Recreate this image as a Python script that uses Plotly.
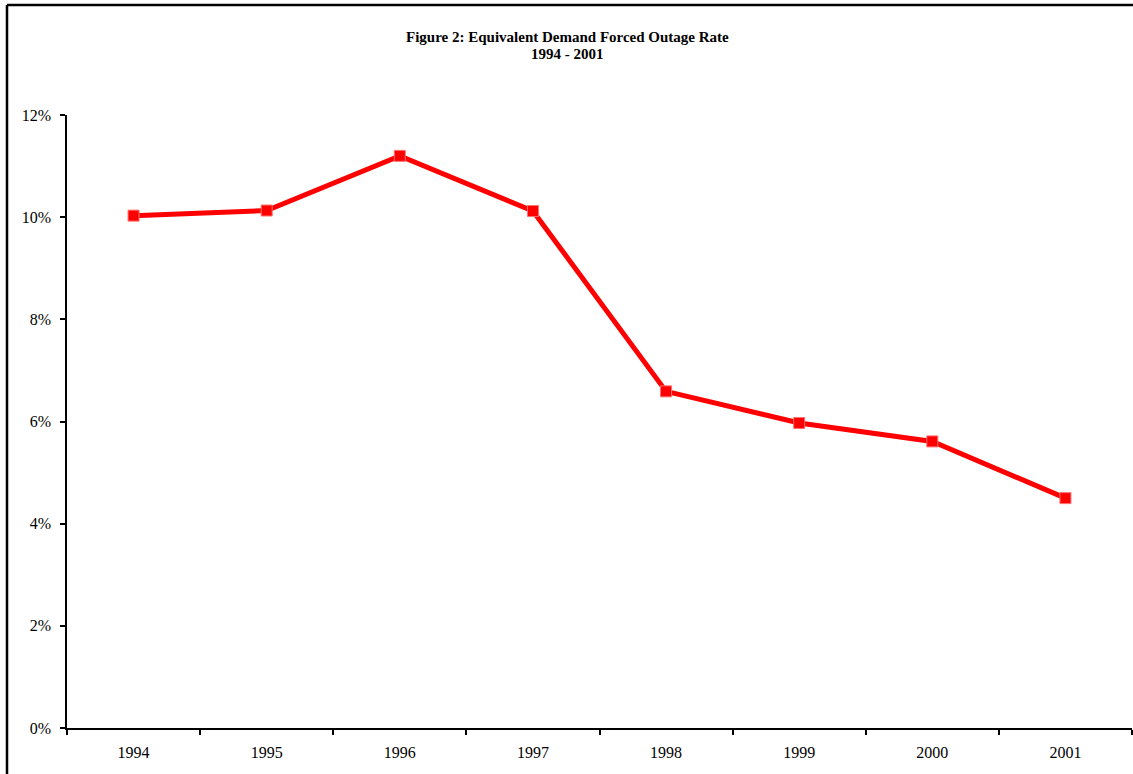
import plotly.graph_objects as go

years = ["1994", "1995", "1996", "1997", "1998", "1999", "2000", "2001"]
edfor = [0.1003, 0.1013, 0.1120, 0.1012, 0.0659, 0.0597, 0.0561, 0.0450]
y_ticks = [0, 0.02, 0.04, 0.06, 0.08, 0.10, 0.12]
y_tick_labels = ["0%", "2%", "4%", "6%", "8%", "10%", "12%"]
title_lines = ["Figure 2: Equivalent Demand Forced Outage Rate", "1994 - 2001"]

W, H = 1133, 774
L, R, T, B = 67, 1, 115, 46
pw, ph = W - L - R, H - T - B

fig = go.Figure()
fig.add_trace(go.Scatter(
    x=years, y=edfor, mode="lines+markers",
    line=dict(color="#ff0000", width=5),
    marker=dict(symbol="square", size=11, color="#ff0000",
                line=dict(color="#ff7070", width=1)),
    showlegend=False, hoverinfo="x+y",
))

font = "Times New Roman, Liberation Serif, serif"
fig.update_layout(
    width=W, height=H,
    margin=dict(l=L, r=R, t=T, b=B),
    paper_bgcolor="white", plot_bgcolor="white",
    font=dict(family=font, size=16, color="black"),
    xaxis=dict(
        type="category", range=[-0.5, 7.5], tickson="boundaries",
        ticks="outside", ticklen=5, tickcolor="black", tickwidth=1.5,
        showline=True, linecolor="black", linewidth=1.5,
        showgrid=False, zeroline=False, ticklabelstandoff=9,
        tickfont=dict(family=font, size=16),
    ),
    yaxis=dict(
        range=[0, 0.12], tickvals=y_ticks, ticktext=y_tick_labels,
        ticks="outside", ticklen=5, tickcolor="black", tickwidth=1.5,
        showline=True, linecolor="black", linewidth=1.5,
        showgrid=False, zeroline=False, ticklabelstandoff=6,
        tickfont=dict(family=font, size=16),
    ),
)

# title as two centred bold lines
for text, py in zip(title_lines, [37, 54]):
    fig.add_annotation(
        text=f"<b>{text}</b>", xref="paper", yref="paper",
        x=(567 - L) / pw, y=(H - B - py) / ph,
        xanchor="center", yanchor="middle", showarrow=False,
        font=dict(family=font, size=15, color="black"),
    )

# outer chart border (only left and top edges visible in the frame)
x0 = (7 - L) / pw
y1 = (H - B - 5) / ph
fig.add_shape(type="line", xref="paper", yref="paper",
              x0=x0, x1=1.05, y0=y1, y1=y1,
              line=dict(color="black", width=2.5))
fig.add_shape(type="line", xref="paper", yref="paper",
              x0=x0, x1=x0, y0=-0.2, y1=y1,
              line=dict(color="black", width=2.5))

fig.write_html("out.html", config={"displayModeBar": False},
               post_script="document.body.style.margin='0';document.body.style.overflow='hidden';")
